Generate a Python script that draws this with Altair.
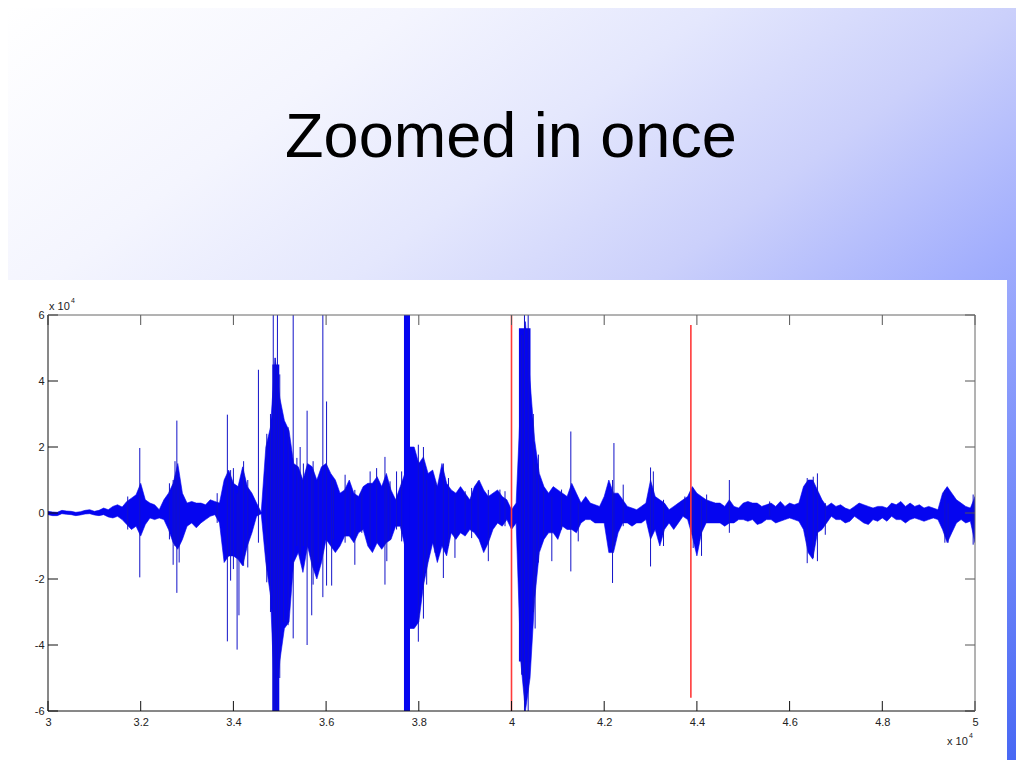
import altair as alt
import pandas as pd

TITLE = "Zoomed in once"

# solid core of the waveform (x 10^4), sampled every 0.01 from 3.00 to 5.00
X_START = 3.0
X_STEP = 0.01
UP = [
    0.05, 0.03, 0.02, 0.08, 0.06, 0.05, 0.02, 0.04, 0.08, 0.10,
    0.05, 0.08, 0.15, 0.10, 0.20, 0.25, 0.18, 0.35, 0.45, 0.55,
    0.90, 0.40, 0.30, 0.25, 0.10, 0.40, 0.60, 0.90, 1.50, 0.60,
    0.30, 0.35, 0.30, 0.30, 0.25, 0.40, 0.35, 0.30, 1.00, 1.30,
    0.90, 0.80, 1.40, 0.80, 0.60, 0.30, 0.02, 2.00, 2.60, 4.70,
    3.50, 2.80, 2.50, 1.50, 1.40, 1.00, 1.50, 1.40, 1.00, 1.40,
    1.50, 1.20, 1.00, 0.60, 0.70, 1.00, 0.60, 0.50, 0.80, 0.90,
    0.90, 1.10, 0.80, 1.20, 0.70, 0.40, 0.80, 1.20, 2.00, 2.00,
    1.50, 1.70, 1.20, 1.30, 0.80, 1.50, 0.90, 0.70, 0.60, 0.80,
    0.60, 0.40, 0.80, 1.00, 0.70, 0.50, 0.60, 0.70, 0.50, 0.40,
    0.10, 0.30, 3.50, 5.80, 4.00, 2.20, 1.20, 0.80, 0.60, 0.80,
    0.70, 0.60, 0.50, 0.90, 0.60, 0.30, 0.50, 0.30, 0.25, 0.20,
    0.50, 1.00, 0.60, 0.60, 0.40, 0.20, 0.15, 0.10, 0.20, 0.30,
    1.00, 0.50, 0.40, 0.30, 0.10, 0.20, 0.30, 0.40, 0.50, 0.80,
    0.60, 0.50, 0.40, 0.35, 0.30, 0.30, 0.20, 0.40, 0.20, 0.15,
    0.30, 0.35, 0.30, 0.30, 0.20, 0.25, 0.30, 0.20, 0.35, 0.20,
    0.30, 0.25, 0.30, 0.80, 1.00, 1.00, 0.70, 0.40, 0.20, 0.30,
    0.20, 0.25, 0.15, 0.10, 0.20, 0.30, 0.25, 0.20, 0.15, 0.20,
    0.20, 0.15, 0.30, 0.25, 0.35, 0.20, 0.30, 0.20, 0.25, 0.15,
    0.20, 0.15, 0.10, 0.60, 0.80, 0.60, 0.40, 0.30, 0.20, 0.15,
    0.50,
]
LO = [
    -0.05, -0.08, -0.08, -0.02, -0.04, -0.05, -0.08, -0.06, -0.03, -0.02,
    -0.06, -0.08, -0.05, -0.12, -0.15, -0.10, -0.20, -0.35, -0.50, -0.40,
    -0.70, -0.35, -0.15, -0.20, -0.15, -0.20, -0.50, -0.90, -1.10, -0.80,
    -0.40, -0.30, -0.45, -0.30, -0.20, -0.10, -0.05, -0.30, -1.50, -1.30,
    -1.30, -1.40, -1.60, -1.00, -0.60, -0.10, -0.02, -1.50, -2.50, -6.00,
    -4.50, -3.50, -3.30, -1.50, -1.20, -1.80, -1.00, -1.60, -2.00, -1.50,
    -0.80, -1.00, -1.20, -1.00, -0.70, -0.70, -0.90, -0.60, -0.50, -1.00,
    -1.20, -0.90, -1.10, -0.90, -0.80, -0.40, -0.40, -1.00, -3.50, -3.50,
    -3.30, -2.20, -1.50, -0.90, -1.50, -1.00, -1.30, -0.60, -0.80, -0.60,
    -0.70, -0.50, -0.60, -0.80, -1.20, -0.90, -0.50, -0.30, -0.40, -0.20,
    -0.50, -0.30, -4.50, -6.00, -5.00, -2.60, -1.20, -0.80, -0.60, -0.60,
    -0.80, -0.40, -0.50, -0.50, -0.60, -0.30, -0.20, -0.20, -0.30, -0.30,
    -0.30, -1.20, -1.20, -0.60, -0.30, -0.30, -0.40, -0.30, -0.30, -0.20,
    -0.80, -0.50, -1.00, -0.50, -0.30, -0.50, -0.30, -0.10, -0.20, -0.70,
    -1.30, -0.60, -0.30, -0.30, -0.30, -0.30, -0.40, -0.30, -0.30, -0.20,
    -0.20, -0.25, -0.20, -0.35, -0.30, -0.20, -0.20, -0.30, -0.25, -0.20,
    -0.15, -0.20, -0.25, -0.50, -1.20, -1.40, -0.60, -0.50, -0.30, -0.10,
    -0.20, -0.20, -0.30, -0.25, -0.10, -0.20, -0.30, -0.35, -0.20, -0.25,
    -0.15, -0.25, -0.10, -0.20, -0.20, -0.30, -0.20, -0.15, -0.20, -0.25,
    -0.20, -0.15, -0.20, -0.50, -0.90, -0.60, -0.30, -0.20, -0.30, -0.25,
    -0.90,
]

# solid blocks (clipped bursts)
BLOCK_X0 = [3.484, 3.768, 4.016]
BLOCK_X1 = [3.499, 3.781, 4.041]
BLOCK_TOP = [4.5, 6.0, 5.6]
BLOCK_BOT = [-6.0, -6.0, -4.5]

# isolated thin spikes
SPIKE_X = [3.172, 3.198, 3.262, 3.270, 3.274, 3.278, 3.283, 3.365, 3.387, 3.394,
           3.400, 3.408, 3.412, 3.422, 3.431, 3.454, 3.472, 3.480, 3.486, 3.490,
           3.495, 3.500, 3.508, 3.518, 3.529, 3.537, 3.544, 3.551, 3.559, 3.569,
           3.572, 3.583, 3.593, 3.601, 3.612, 3.616, 3.641, 3.652, 3.662, 3.677,
           3.695, 3.709, 3.727, 3.731, 3.738, 3.752, 3.763, 3.799, 3.810, 3.817,
           3.835, 3.853, 3.864, 3.878, 3.900, 3.914, 3.928, 3.950, 3.975, 3.986,
           4.022, 4.028, 4.036, 4.047, 4.051, 4.058, 4.069, 4.087, 4.108, 4.128,
           4.144, 4.218, 4.221, 4.241, 4.300, 4.306, 4.328, 4.374, 4.392, 4.410,
           4.421, 4.470, 4.557, 4.638, 4.651, 4.660, 4.677, 4.935, 4.942, 4.996]
SPIKE_TOP = [0.50, 1.97, 0.90, 1.00, 1.57, 2.80, 1.00, 0.60, 2.98, 1.30,
             1.36, 0.60, 0.80, 1.57, 1.00, 4.34, 2.40, 3.00, 6.00, 4.70,
             6.00, 4.20, 2.60, 2.60, 6.00, 1.67, 2.00, 1.50, 3.10, 1.20,
             1.57, 1.00, 6.00, 3.38, 1.00, 1.00, 1.16, 0.76, 0.70, 0.66,
             1.26, 1.36, 1.70, 0.90, 0.96, 1.26, 1.26, 2.07, 2.00, 1.00,
             0.96, 1.50, 1.06, 0.50, 0.66, 0.76, 0.96, 0.70, 0.71, 0.66,
             5.40, 6.00, 6.00, 3.00, 1.50, 1.77, 0.66, 0.50, 0.71, 2.47,
             0.30, 1.00, 2.12, 0.86, 1.38, 1.26, 0.40, 0.50, 0.76, 0.40,
             0.56, 1.00, 0.35, 1.06, 1.10, 1.20, 0.30, 0.70, 0.30, 0.56]
SPIKE_BOT = [-0.50, -1.95, -0.80, -1.57, -1.00, -2.42, -1.50, -0.30, -3.89, -2.05,
             -1.70, -4.14, -3.10, -1.60, -1.65, -0.90, -2.10, -3.00, -6.00, -6.00,
             -6.00, -5.00, -3.30, -3.40, -3.80, -1.00, -1.26, -1.00, -4.00, -3.10,
             -2.17, -1.50, -2.55, -2.20, -2.20, -0.80, -0.90, -0.70, -1.57, -0.60,
             -1.00, -0.90, -2.17, -1.46, -0.80, -0.50, -0.86, -3.90, -3.20, -2.17,
             -1.20, -1.97, -1.00, -1.36, -0.50, -0.76, -0.70, -1.46, -0.30, -0.40,
             -4.90, -6.00, -6.00, -3.00, -3.50, -1.50, -0.70, -1.46, -0.50, -1.77,
             -0.86, -2.12, -1.00, -0.40, -1.62, -0.50, -1.00, -0.10, -1.06, -1.30,
             -0.30, -0.60, -0.10, -1.52, -1.36, -1.46, -0.66, -0.90, -0.90, -0.96]

# red markers
RED_X = [4.0, 4.387]
RED_TOP = [6.0, 5.7]
RED_BOT = [-6.0, -5.6]

X_TICKS = [3, 3.2, 3.4, 3.6, 3.8, 4, 4.2, 4.4, 4.6, 4.8, 5]
Y_TICKS = [-6, -4, -2, 0, 2, 4, 6]

W, H = 927, 396
BLUE = "#0505f0"
FONT = "Liberation Sans"

xs = [round(X_START + X_STEP * i, 2) for i in range(len(UP))]
env = pd.DataFrame({"x": xs, "y": UP, "y2": LO})
blocks = pd.DataFrame({"x": BLOCK_X0, "x2": BLOCK_X1, "y": BLOCK_TOP, "y2": BLOCK_BOT})
spikes = pd.DataFrame({"x": SPIKE_X, "y": SPIKE_TOP, "y2": SPIKE_BOT})
reds = pd.DataFrame({"x": RED_X, "y": RED_TOP, "y2": RED_BOT})
xt = pd.DataFrame({"x": X_TICKS})
yt = pd.DataFrame({"y": Y_TICKS})
one = alt.Data(values=[{"a": 1}])

xscale = alt.Scale(domain=[3, 5], nice=False, zero=False)
yscale = alt.Scale(domain=[-6, 6], nice=False, zero=False)
xaxis = alt.Axis(values=X_TICKS, ticks=False, domain=False, grid=False,
                 labelExpr="'' + datum.value", labelPadding=5, labelFontSize=11,
                 labelFont=FONT, labelColor="#222222", title=None, zindex=1,
                 labelFlush=False, labelOverlap=False)
yaxis = alt.Axis(values=Y_TICKS, ticks=False, domain=False, grid=False,
                 labelExpr="'' + datum.value", labelPadding=4, labelFontSize=11,
                 labelFont=FONT, labelColor="#222222", title=None, zindex=1,
                 labelFlush=False, labelOverlap=False)

X = lambda: alt.X("x:Q", scale=xscale, axis=xaxis)
Y = lambda: alt.Y("y:Q", scale=yscale, axis=yaxis)

grad = alt.LinearGradient(
    gradient="linear",
    stops=[
        alt.GradientStop(offset=0.0, color="#ffffff"),
        alt.GradientStop(offset=0.2, color="#f4f5fe"),
        alt.GradientStop(offset=0.35, color="#e4e7fd"),
        alt.GradientStop(offset=0.5, color="#cbd0fb"),
        alt.GradientStop(offset=0.65, color="#a3affd"),
        alt.GradientStop(offset=0.8, color="#7b90fb"),
        alt.GradientStop(offset=1.0, color="#4868f4"),
    ],
    x1=0, y1=0, x2=1, y2=1,
)

bg = alt.Chart(one).mark_rect(fill=grad, strokeWidth=0).encode(
    x=alt.value(-40), x2=alt.value(968), y=alt.value(-307), y2=alt.value(445))
panel = alt.Chart(one).mark_rect(fill="white", strokeWidth=0).encode(
    x=alt.value(-40), x2=alt.value(959), y=alt.value(-35), y2=alt.value(445))
title = alt.Chart(one).mark_text(
    text=TITLE, fontSize=63, font=FONT, color="black", align="center",
    baseline="alphabetic").encode(x=alt.value(463), y=alt.value(-158))

area = alt.Chart(env).mark_area(color=BLUE, stroke=BLUE, strokeWidth=0.6, clip=True).encode(
    x=X(), y=Y(), y2="y2:Q")
blk = alt.Chart(blocks).mark_rect(color=BLUE, clip=True).encode(
    x=X(), x2="x2:Q", y=Y(), y2="y2:Q")
spk = alt.Chart(spikes).mark_rule(color="#1212c8", strokeWidth=1, clip=True).encode(
    x=X(), y=Y(), y2="y2:Q")
red = alt.Chart(reds).mark_rule(color="#ff3a3a", strokeWidth=1.6).encode(
    x=X(), y=Y(), y2="y2:Q")

xt_bot = alt.Chart(xt).mark_rule(color="#111111").encode(x=X(), y=alt.value(H), y2=alt.value(H - 10))
xt_top = alt.Chart(xt).mark_rule(color="#555555").encode(x=X(), y=alt.value(0), y2=alt.value(10))
yt_left = alt.Chart(yt).mark_rule(color="#111111").encode(y=Y(), x=alt.value(0), x2=alt.value(10))
yt_right = alt.Chart(yt).mark_rule(color="#555555").encode(y=Y(), x=alt.value(W - 10), x2=alt.value(W))

box_l = alt.Chart(one).mark_rule(color="#111111").encode(x=alt.value(0), y=alt.value(0), y2=alt.value(H))
box_b = alt.Chart(one).mark_rule(color="#111111").encode(x=alt.value(0), x2=alt.value(W), y=alt.value(H))
box_t = alt.Chart(one).mark_rule(color="#666666").encode(x=alt.value(0), x2=alt.value(W), y=alt.value(0))
box_r = alt.Chart(one).mark_rule(color="#666666").encode(x=alt.value(W), y=alt.value(0), y2=alt.value(H))

def txt(s, x, y, size, align="left"):
    return alt.Chart(one).mark_text(text=s, fontSize=size, font=FONT, color="#222222",
                                    align=align, baseline="middle").encode(
        x=alt.value(x), y=alt.value(y))

exp1 = txt("x 10", 1, -8, 11)
exp1s = txt("4", 23, -14, 7)
exp2 = txt("x 10", 899, 427, 11)
exp2s = txt("4", 921, 421, 7)

chart = alt.layer(
    bg, panel, title, area, blk, spk, red,
    xt_bot, xt_top, yt_left, yt_right,
    box_l, box_b, box_t, box_r,
    exp1, exp1s, exp2, exp2s,
).properties(
    width=W, height=H,
    autosize=alt.AutoSizeParams(type="none"),
    padding={"left": 40, "top": 307, "right": 41, "bottom": 49},
    background="white",
).configure_view(strokeWidth=0)

chart.save("out.html", embed_options={"renderer": "svg", "actions": False})
